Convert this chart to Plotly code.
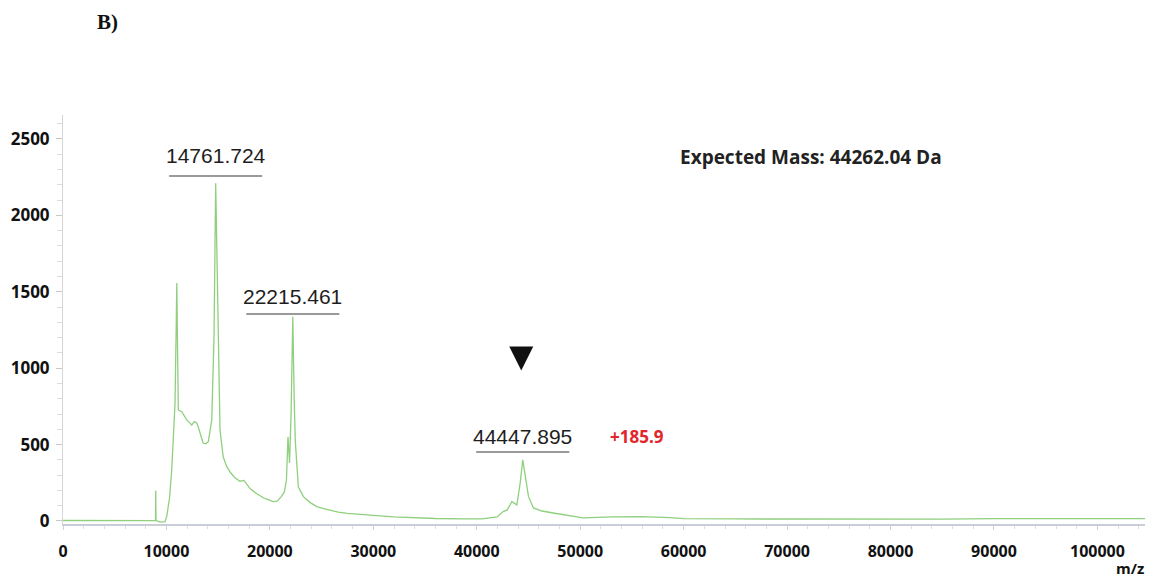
import plotly.graph_objects as go

# Spectrum (m/z, intensity)
mz = [0, 3000, 6000, 8800, 8940, 8965, 8990, 9380, 9865, 10030, 10300, 10510, 10700, 10830,
      10950, 11000, 11080, 11150, 11480, 11700, 11960, 12200, 12450, 12700, 12930, 13100,
      13250, 13540, 13800, 14050, 14380, 14600, 14761, 14900, 15020, 15180, 15480, 15800,
      16150, 16600, 17100, 17500, 17800, 18100, 18700, 19400, 19900, 20300, 20700, 21100,
      21400, 21600, 21750, 21900, 22050, 22215, 22350, 22450, 22750, 23240, 23900, 24540,
      25200, 25820, 26600, 27500, 29000, 30650, 32000, 33850, 36000, 38700, 40500, 41970,
      42550, 42940, 43390, 43880, 44200, 44447, 44700, 45000, 45480, 46300, 47390, 48800,
      50290, 53000, 56000, 58700, 60000, 65000, 70000, 75000, 80000, 85000, 90000, 95000,
      100000, 104600]
intensity = [3, 3, 2, 2, 2, 200, 2, -8, -5, 30, 150, 335, 560, 772,
             1300, 1557, 1100, 726, 715, 690, 661, 645, 628, 650, 641, 610,
             576, 510, 505, 519, 661, 1206, 2210, 1500, 1206, 596, 421, 360,
             320, 285, 260, 265, 235, 210, 180, 150, 138, 126, 130, 159,
             190, 268, 550, 380, 700, 1337, 800, 530, 224, 159, 120, 94,
             80, 70, 58, 50, 40, 33, 27, 20, 16, 13, 14, 26,
             61, 72, 126, 105, 250, 400, 300, 159, 85, 65, 52, 35,
             20, 26, 28, 22, 15, 13, 12, 11, 10, 12, 15, 15,
             15, 15]

# Peak annotations
peak_mz = [14761.724, 22215.461, 44447.895]
peak_text = ["14761.724", "22215.461", "44447.895"]
peak_label_y = [2395, 1472, 556]
peak_line_y = [2258, 1355, 452]
underline_half_width = 4500

# Arrow marking the expected-mass peak
arrow_mz = [44300]
arrow_y = [985]

# Extra labels
shift_text = "+185.9"
shift_pos = (55500, 550)
expected_text = "Expected Mass: 44262.04 Da"
expected_pos = (59450, 2382)

x_ticks = [0, 10000, 20000, 30000, 40000, 50000, 60000, 70000, 80000, 90000, 100000]
y_ticks = [0, 500, 1000, 1500, 2000, 2500]

fig = go.Figure()
fig.add_trace(go.Scatter(x=mz, y=intensity, mode="lines",
                         line=dict(color="#8fcf7e", width=1.3), hoverinfo="skip",
                         showlegend=False))
fig.add_trace(go.Scatter(x=arrow_mz, y=arrow_y, mode="markers",
                         marker=dict(symbol="arrow-down", size=24, color="#111111"),
                         showlegend=False, hoverinfo="skip"))

for pm, pt, ly, uy in zip(peak_mz, peak_text, peak_label_y, peak_line_y):
    fig.add_annotation(x=pm, y=ly, text=pt, showarrow=False, xref="x", yref="y",
                       font=dict(family="Liberation Sans, Arial, sans-serif",
                                 size=21, color="#1e1e1e"))
    fig.add_shape(type="line", xref="x", yref="y",
                  x0=pm - underline_half_width, x1=pm + underline_half_width,
                  y0=uy, y1=uy, line=dict(color="#9a9a9a", width=2))

fig.add_annotation(x=shift_pos[0], y=shift_pos[1], text="<b>" + shift_text + "</b>",
                   showarrow=False, font=dict(family="Open Sans", size=17, color="#e0262b"))
fig.add_annotation(x=expected_pos[0], y=expected_pos[1], text="<b>" + expected_text + "</b>",
                   showarrow=False, xanchor="left",
                   font=dict(family="Open Sans", size=19, color="#222222"))
fig.add_annotation(x=0.0296, y=1.227, xref="paper", yref="paper",
                   text="<b>B)</b>", showarrow=False, xanchor="left", yanchor="middle",
                   font=dict(family="Liberation Serif", size=21, color="#111111"))
fig.add_annotation(x=0.986, y=-0.108, xref="paper", yref="paper", yanchor="middle",
                   xanchor="center", text="<b>m/z</b>", showarrow=False,
                   font=dict(family="Open Sans", size=15, color="#111111"))

# The page body adds an 8px offset; size the figure to the visible area
fig.update_layout(
    width=1145, height=575,
    paper_bgcolor="white", plot_bgcolor="white",
    margin=dict(l=55, r=8, t=107, b=59, autoexpand=False),
    showlegend=False,
)
fig.update_xaxes(range=[0, 104600], tickvals=x_ticks,
                 ticktext=[str(v) for v in x_ticks], automargin=False,
                 showgrid=False, zeroline=False,
                 showline=True, linecolor="#c9cdd8", linewidth=2,
                 ticks="outside", ticklen=4, tickcolor="#d0d0d0",
                 minor=dict(dtick=2000, ticks="outside", ticklen=3, tickcolor="#dddddd"),
                 tickfont=dict(family="Open Sans", size=16, color="#111111", weight="bold"),
                 ticklabelstandoff=8)
fig.update_yaxes(range=[-20, 2657], tickvals=y_ticks, automargin=False,
                 showgrid=False, zeroline=False,
                 showline=True, linecolor="#d6d6d6", linewidth=1,
                 ticks="outside", ticklen=6, tickcolor="#c8c8c8",
                 minor=dict(dtick=100, ticks="outside", ticklen=5, tickcolor="#dddddd"),
                 tickfont=dict(family="Open Sans", size=17, color="#111111", weight="bold"),
                 ticklabelstandoff=3)

fig.write_html("out.html")
